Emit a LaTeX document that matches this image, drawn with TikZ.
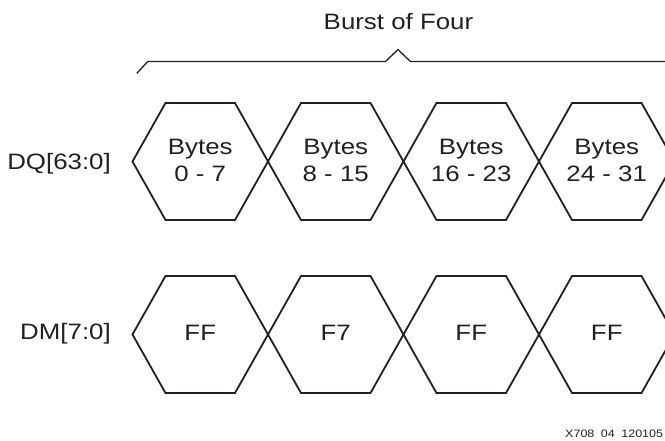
\documentclass[tikz,border=0pt]{standalone}
\usepackage{fontspec}
\setmainfont[FakeStretch=1.16]{Liberation Sans}
\definecolor{ink}{HTML}{231F20}

\begin{document}
\begin{tikzpicture}[x=1pt, y=-1pt,
  hexline/.style={draw=ink, line width=1.8pt, line join=miter},
  braceline/.style={draw=ink, line width=1.3pt},
  lbl/.style={inner sep=0pt, text=ink, font=\fontsize{22.3}{26.7}\selectfont},
  tiny/.style={inner sep=0pt, text=ink, font=\fontsize{10.8}{13}\selectfont}]
\useasboundingbox (0,0) rectangle (665,441);

% bus-valid hexagons, one per beat, for both buses
\begin{scope}
  \clip (0,0) rectangle (665,441);
  \foreach \i in {0,...,3} {
    \pgfmathsetmacro\L{132.5+135.5*\i}
    \foreach \yc in {161.5,334.5} {
      \draw[hexline] (\L,\yc) -- ++(33,-58.5) -- ++(69.5,0) -- ++(33,58.5)
        -- ++(-33,58.5) -- ++(-69.5,0) -- cycle;
    }
  }
  % brace over the burst
  \coordinate (bl) at (136.8,73.4);
  \coordinate (br) at (670,61.5);
  \draw[braceline] (bl) -- (147.7,61.5) -- (385.5,61.5) -- (398,49.6)
    -- (410.5,61.5) -- (br);
\end{scope}

% titles
\node[lbl, anchor=base] (burst) at (398.5,29.3) {Burst of Four};
\node[lbl, anchor=base east] (dq) at (111,169.3) {DQ[63:0]};
\node[lbl, anchor=base east] (dm) at (111,339.3) {DM[7:0]};

% data beats
\node[lbl, anchor=base] (b0a) at (200.25,155) {Bytes};
\node[lbl, anchor=base] (b0b) at (200.25,181.7) {0 - 7};
\node[lbl, anchor=base] (b1a) at (335.75,155) {Bytes};
\node[lbl, anchor=base] (b1b) at (335.75,181.7) {8 - 15};
\node[lbl, anchor=base] (b2a) at (471.25,155) {Bytes};
\node[lbl, anchor=base] (b2b) at (471.25,181.7) {16 - 23};
\node[lbl, anchor=base] (b3a) at (606.75,155) {Bytes};
\node[lbl, anchor=base] (b3b) at (606.75,181.7) {24 - 31};

% mask beats
\node[lbl, anchor=base] (m0) at (200.25,341) {FF};
\node[lbl, anchor=base] (m1) at (335.75,341) {F7};
\node[lbl, anchor=base] (m2) at (471.25,341) {FF};
\node[lbl, anchor=base] (m3) at (606.75,341) {FF};

% figure id
\node[tiny, anchor=base west] (fid) at (565,437.3) {X708\hspace{0.6em}04\hspace{0.6em}120105};
\end{tikzpicture}
\end{document}
